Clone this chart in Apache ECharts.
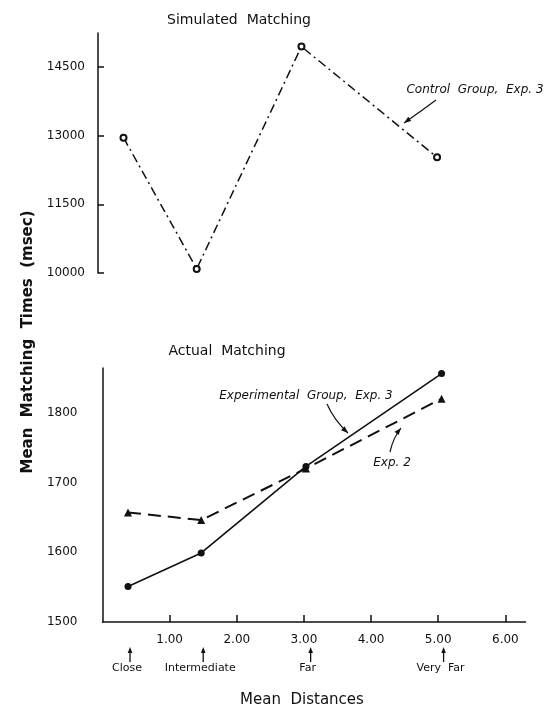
<!DOCTYPE html>
<html><head><meta charset="utf-8">
<script src="https://cdn.jsdelivr.net/npm/echarts@6/dist/echarts.min.js"></script>
<style>html,body{margin:0;padding:0;background:#fff}#c{width:546px;height:714px}</style>
</head><body><div id="c"></div>
<script>
// ---- data ----
const distances = [0.38, 1.47, 3.03, 5.05];
const controlExp3 = [12955, 10090, 14943, 12526];
const experimentalExp3 = [1551, 1599, 1723, 1856];
const exp2 = [1657, 1646, 1720, 1820];
const topTicks = [10000, 11500, 13000, 14500];
const bottomTicks = [1500, 1600, 1700, 1800];
const xTicks = [1, 2, 3, 4, 5, 6];
const categoryNames = ['Close', 'Intermediate', 'Far', 'Very  Far'];
const categoryPositions = [0.41, 1.5, 3.1, 5.08];

const FONT = 'DejaVu Sans';
const INK = '#111';
const pairs = (ys) => distances.map((d, i) => [d, ys[i]]);

const chart = echarts.init(document.getElementById('c'), null, {renderer: 'canvas'});

const axisLine = {show: true, onZero: false, lineStyle: {color: INK, width: 1.5}};
const option = {
  animation: false,
  backgroundColor: '#fff',
  grid: [
    {left: 98, top: 33, width: 423, height: 240},
    {left: 102.5, top: 368, width: 423, height: 254}
  ],
  xAxis: [
    {gridIndex: 0, type: 'value', min: 0, max: 6.3, show: false},
    {gridIndex: 1, type: 'value', min: 0, max: 6.3, interval: 1,
     axisLine: axisLine,
     axisTick: {show: true, inside: true, length: 7, lineStyle: {color: INK, width: 1.5}, customValues: xTicks},
     axisLabel: {color: INK, fontFamily: FONT, fontSize: 12, margin: 12, customValues: xTicks,
                 formatter: v => xTicks.includes(v) ? v.toFixed(2) : ''},
     splitLine: {show: false}}
  ],
  yAxis: [
    {gridIndex: 0, type: 'value', min: 10000, max: 15240,
     axisLine: axisLine,
     axisTick: {show: true, inside: true, length: 6, lineStyle: {color: INK, width: 1.5}, customValues: topTicks},
     axisLabel: {color: INK, fontFamily: FONT, fontSize: 12, margin: 13, customValues: topTicks,
                 formatter: v => topTicks.includes(v) ? String(v) : ''},
     splitLine: {show: false}},
    {gridIndex: 1, type: 'value', min: 1500, max: 1864, interval: 100,
     axisLine: axisLine,
     axisTick: {show: false, customValues: bottomTicks},
     axisLabel: {color: INK, fontFamily: FONT, fontSize: 12, margin: 25, customValues: bottomTicks,
                 formatter: v => bottomTicks.includes(v) ? String(v) : ''},
     splitLine: {show: false}}
  ],
  series: [
    {name: 'Control Group, Exp. 3', type: 'line', xAxisIndex: 0, yAxisIndex: 0,
     data: pairs(controlExp3), symbol: 'emptyCircle', symbolSize: 6, showSymbol: true,
     itemStyle: {color: INK, borderColor: INK, borderWidth: 1.3},
     lineStyle: {color: INK, width: 1.5, type: [9, 4, 2, 4]}},
    {name: 'Experimental Group, Exp. 3', type: 'line', xAxisIndex: 1, yAxisIndex: 1,
     data: pairs(experimentalExp3), symbol: 'circle', symbolSize: 7,
     itemStyle: {color: INK}, lineStyle: {color: INK, width: 1.6}},
    {name: 'Exp. 2', type: 'line', xAxisIndex: 1, yAxisIndex: 1,
     data: pairs(exp2), symbol: 'triangle', symbolSize: 8,
     itemStyle: {color: INK}, lineStyle: {color: INK, width: 2, type: [13, 7]}}
  ]
};
chart.setOption(option);

function text(x, y, str, font, extra) {
  return Object.assign({type: 'text', x: x, y: y, silent: true,
    style: {text: str, font: font, fill: INK, align: 'center', verticalAlign: 'middle'}}, extra || {});
}
function arrowHead(tx, ty, fx, fy, len, half) {
  const dx = tx - fx, dy = ty - fy, L = Math.hypot(dx, dy);
  const ux = dx / L, uy = dy / L;
  const bx = tx - ux * len, by = ty - uy * len;
  return {type: 'polygon', silent: true,
    shape: {points: [[tx, ty], [bx - uy * half, by + ux * half], [bx + uy * half, by - ux * half]]},
    style: {fill: INK}};
}
function curvedArrow(x1, y1, cx, cy, x2, y2) {
  return [
    {type: 'bezierCurve', silent: true, shape: {x1: x1, y1: y1, x2: x2, y2: y2, cpx1: cx, cpy1: cy},
     style: {stroke: INK, lineWidth: 1.2, fill: null}},
    arrowHead(x2, y2, cx, cy, 7, 2.6)
  ];
}

const g = [];
g.push(text(239, 20, 'Simulated  Matching', '14px ' + FONT));
g.push(text(227, 351, 'Actual  Matching', '14px ' + FONT));
g.push(text(302, 700, 'Mean  Distances', '15px ' + FONT));
g.push(text(28, 342, 'Mean  Matching  Times  (msec)', 'bold 15px ' + FONT, {rotation: Math.PI / 2}));
g.push(text(475, 90, 'Control  Group,  Exp. 3', 'italic 12px ' + FONT));
g.push(...curvedArrow(436, 100, 424, 109, 404, 123));
g.push(text(306, 396, 'Experimental  Group,  Exp. 3', 'italic 12px ' + FONT));
g.push(...curvedArrow(327, 404, 334, 420, 348, 433));
g.push(text(392, 463, 'Exp. 2', 'italic 12px ' + FONT));
g.push(...curvedArrow(390, 452, 393, 438, 401, 428));

categoryPositions.forEach((p, i) => {
  const px = chart.convertToPixel({xAxisIndex: 1}, p);
  g.push({type: 'line', silent: true, shape: {x1: px, y1: 662, x2: px, y2: 652},
          style: {stroke: INK, lineWidth: 1.3}});
  g.push(arrowHead(px, 647, px, 662, 6, 2.3));
  g.push(text(px - 3, 668, categoryNames[i], '11px ' + FONT));
});

chart.setOption({graphic: g});
</script>
</body></html>
